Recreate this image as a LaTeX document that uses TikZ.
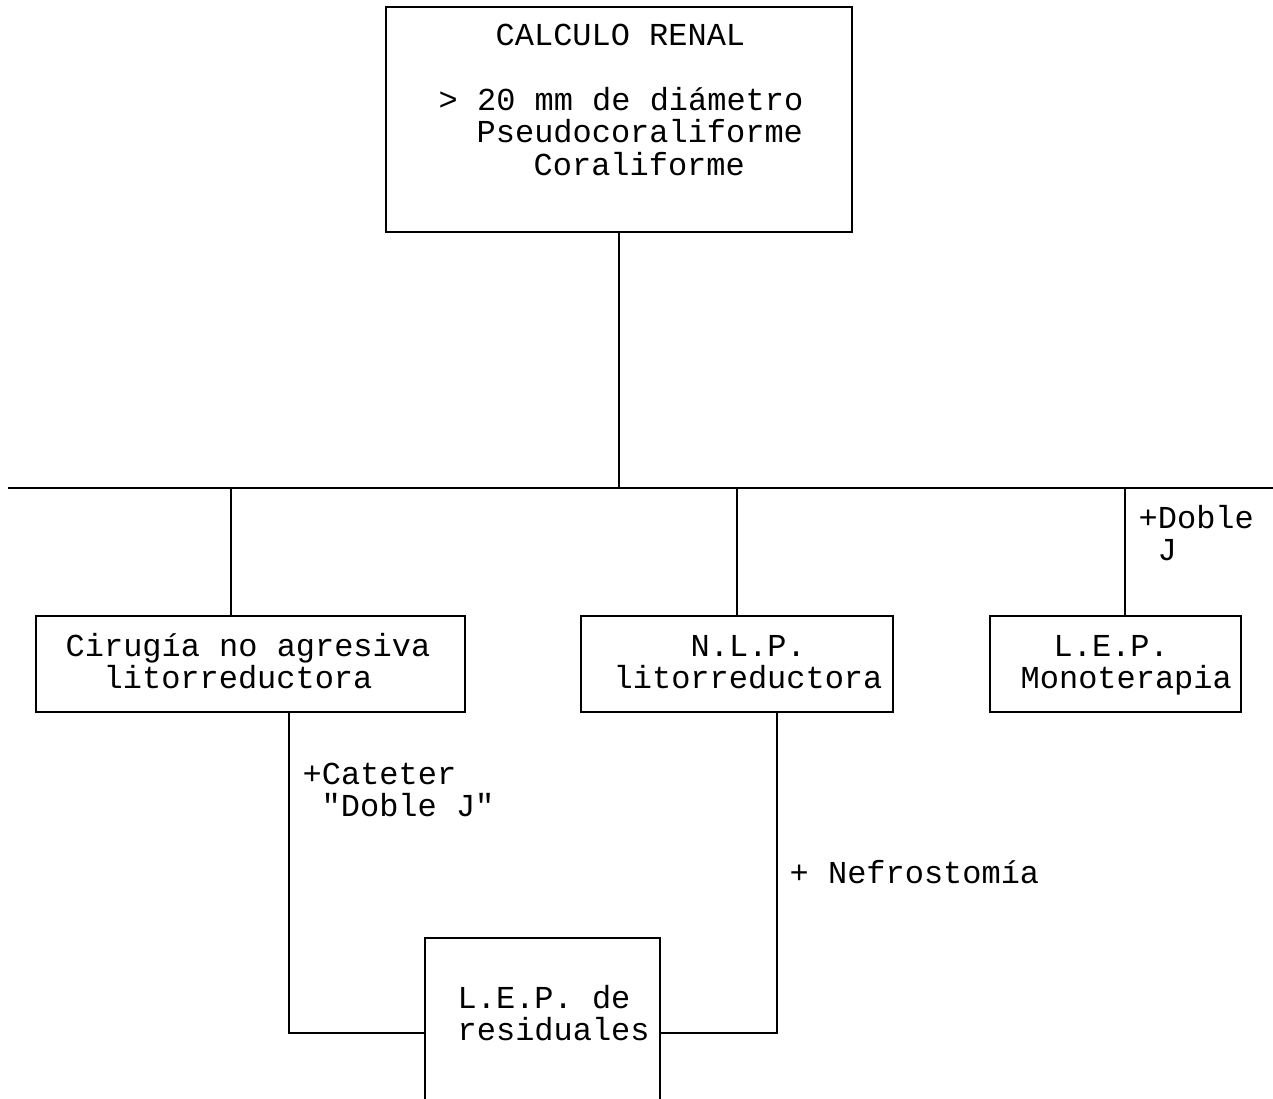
\documentclass[tikz,border=0pt]{standalone}
\usepackage{fontspec}
\setmonofont{Liberation Mono}
\usepackage{tikz}

\begin{document}
\begin{tikzpicture}[
x=0.02cm, y=-0.02cm,
line width=0.8pt,
box/.style={
draw,
inner sep=0pt,
minimum height=1.92cm
},
lbl/.style={
anchor=base west,
inner sep=0pt,
font=\ttfamily\fontsize{18.2}{18.2}\selectfont
}
]
\clip (0,0) rectangle (1273,1098);

% boxes
\node[box, minimum width=9.32cm, minimum height=4.5cm] (calculo) at (619,119.5) {};
\node[box, minimum width=8.58cm] (cirugia) at (250.5,664) {};
\node[box, minimum width=6.24cm] (nlp) at (737,664) {};
\node[box, minimum width=5.02cm] (lepmono) at (1115.5,664) {};
\node[box, minimum width=4.7cm, minimum height=4cm] (lepres) at (542.5,1038) {};

% texts
\node[lbl] (calc1) at (495,46) {CALCULO RENAL};
\node[lbl] (calc2) at (438,111) {> 20 mm de diámetro};
\node[lbl] (calc3) at (476,143) {Pseudocoraliforme};
\node[lbl] (calc4) at (533,175) {Coraliforme};

\node[lbl] (cir1) at (65,656) {Cirugía no agresiva};
\node[lbl] (cir2) at (103,688) {litorreductora};
\node[lbl] (nlp1) at (690,656) {N.L.P.};
\node[lbl] (nlp2) at (613,688) {litorreductora};
\node[lbl] (mono1) at (1053,656) {L.E.P.};
\node[lbl] (mono2) at (1020,688) {Monoterapia};
\node[lbl] (res1) at (457,1008) {L.E.P. de};
\node[lbl] (res2) at (457,1040) {residuales};

\node[lbl] (doble1) at (1138,528) {+Doble};
\node[lbl] (doble2) at (1157,560) {J};
\node[lbl] (cat1) at (302,784) {+Cateter};
\node[lbl] (cat2) at (321,816) {"Doble J"};
\node[lbl] (nefro) at (789,883) {+ Nefrostomía};

% connectors
\coordinate (barL) at (8,488);
\coordinate (barR) at (1273,488);
\coordinate (dropA) at (231,488);
\coordinate (dropC) at (1125,488);
\coordinate (legA) at (289,1033);
\coordinate (legB) at (777,1033);

\draw (calculo.south) -- (calculo.south |- barL);
\draw (barL) -- (barR);
\draw (dropA) -- (dropA |- cirugia.north);
\draw (nlp.north |- barL) -- (nlp.north);
\draw (dropC) -- (dropC |- lepmono.north);
\draw (legA |- cirugia.south) -- (legA) -- (lepres.west |- legA);
\draw (legB |- nlp.south) -- (legB) -- (lepres.east |- legB);

\end{tikzpicture}
\end{document}
